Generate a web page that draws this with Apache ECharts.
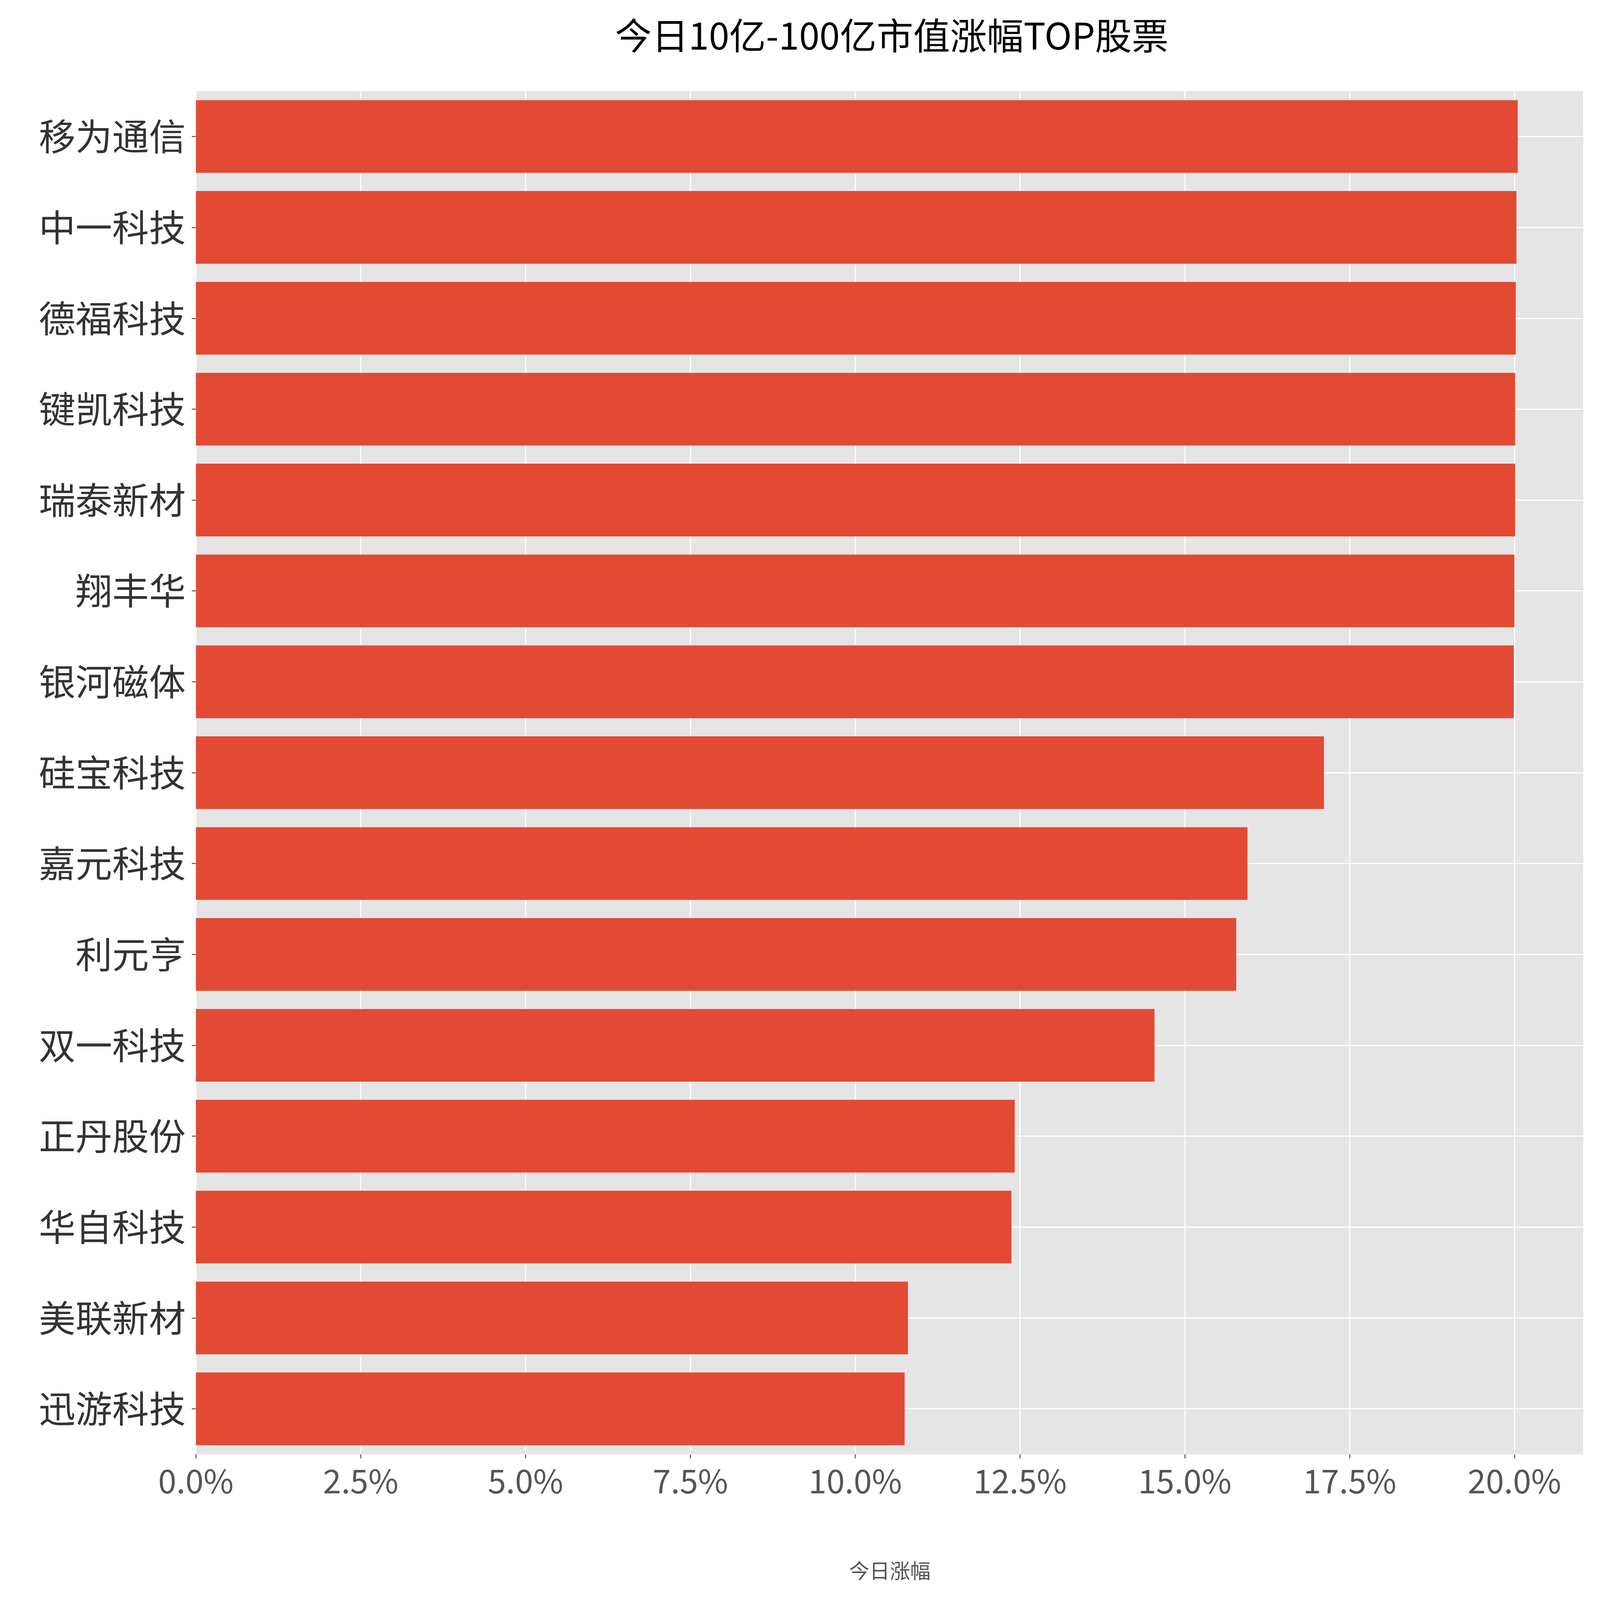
<!DOCTYPE html>
<html><head><meta charset="utf-8">
<script src="https://cdn.jsdelivr.net/npm/echarts@6/dist/echarts.min.js"></script>
<style>html,body{margin:0;padding:0;background:#fff;overflow:hidden}#c{width:100vw;height:100vh}</style>
</head><body><div id="c"></div>
<script>
const categories = ['移为通信','中一科技','德福科技','键凯科技','瑞泰新材','翔丰华','银河磁体','硅宝科技','嘉元科技','利元亨','双一科技','正丹股份','华自科技','美联新材','迅游科技'];
const values = [20.05,20.03,20.02,20.01,20.01,20.00,19.99,17.11,15.95,15.78,14.54,12.42,12.37,10.80,10.75];
const xTicks = [0,2.5,5,7.5,10,12.5,15,17.5,20];
const F = 'Noto Sans CJK SC';
const el = document.getElementById('c');
const W = el.clientWidth, H = el.clientHeight;
const s = W/1568, t = H/1054;
const chart = echarts.init(el);
chart.setOption({
  backgroundColor:'#fff',
  title:{text:'今日10亿-100亿市值涨幅TOP股票',left:872*s,top:10*t,textAlign:'center',textStyle:{fontFamily:F,fontSize:36*s,fontWeight:'normal',color:'#000'}},
  grid:{left:192*s,right:16*s,top:60*t,bottom:96*t,backgroundColor:'#E5E5E5',show:true,borderWidth:0},
  xAxis:{type:'value',min:0,max:21.05,interval:2.5,
    name:'今日涨幅',nameLocation:'middle',nameGap:70*t,nameTextStyle:{fontFamily:F,fontSize:20*s,color:'#555'},
    axisLine:{show:false},axisTick:{show:true,length:4*s,lineStyle:{color:'#555',width:1*s}},
    axisLabel:{showMaxLabel:false,margin:10*s,fontFamily:F,fontSize:32*s,color:'#555',formatter:v=>v.toFixed(1)+'%'},
    splitLine:{show:true,lineStyle:{color:'#fff',width:1.2*s}}},
  yAxis:{type:'category',data:categories,inverse:true,
    axisLine:{show:false},axisTick:{show:true,alignWithLabel:true,length:4*s,lineStyle:{color:'#555',width:1*s}},
    axisLabel:{margin:10*s,fontFamily:F,fontSize:36*s,color:'#333'},splitLine:{show:false}},
  series:[
    {type:'line',data:[],z:1,zlevel:0,silent:true,markLine:{silent:true,symbol:'none',label:{show:false},z:1,
      lineStyle:{color:'#fff',width:1.2*s,type:'solid'},data:categories.map(c=>({yAxis:c}))}},
    {type:'bar',data:values,z:5,barCategoryGap:'20%',itemStyle:{color:'#E24A33'}}
  ]
});
</script></body></html>
